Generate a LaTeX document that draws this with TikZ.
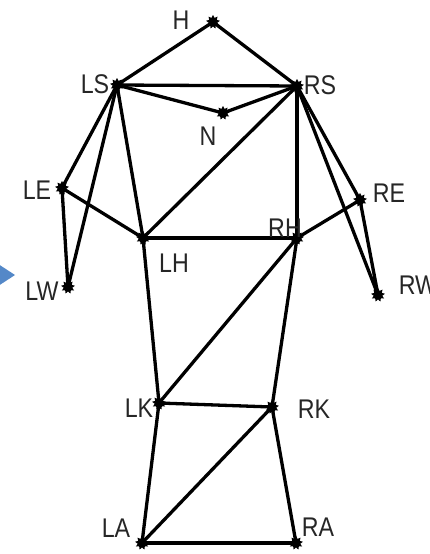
\documentclass[tikz,border=0pt]{standalone}
\usepackage{fontspec}
\setmainfont{Liberation Sans}[FakeStretch=0.86]
\usetikzlibrary{shapes.geometric}
\definecolor{pointer}{RGB}{84,136,200}
\tikzset{
  joint/.style={star, star points=9, star point ratio=1.6, fill=black, inner sep=0pt, minimum size=14pt},
  bone/.style={line width=3.3pt, line cap=round, line join=round},
  lbl/.style={inner sep=0pt, text=black!85, font=\fontsize{27}{27}\selectfont}
}
\begin{document}
\begin{tikzpicture}[x=1pt, y=-1pt]
  \useasboundingbox (0,0) rectangle (430,554);
  \fill[white] (0,0) rectangle (430,554);

  % pointer at the left edge
  \fill[pointer] (-8,260) -- (15,275) -- (-8,290) -- cycle;

  % joints
  \node[joint] (H)  at (213,22)  {};
  \node[joint] (LS) at (117,85)  {};
  \node[joint] (RS) at (297,86)  {};
  \node[joint] (N)  at (223,113) {};
  \node[joint] (LE) at (62,188)  {};
  \node[joint] (RE) at (360,200) {};
  \node[joint] (LH) at (143,238) {};
  \node[joint] (RH) at (297,238) {};
  \node[joint] (LW) at (68,287)  {};
  \node[joint] (RW) at (378,295) {};
  \node[joint] (LK) at (159,403) {};
  \node[joint] (RK) at (272,407) {};
  \node[joint] (LA) at (142,543) {};
  \node[joint] (RA) at (296,543) {};

  % skeleton edges
  \foreach \a/\b in {H/LS, H/RS, LS/RS, LS/N, N/RS, LS/LE, LS/LW, LS/LH,
                     LE/LW, LE/LH, RS/LH, RS/RH, RS/RE, RS/RW, RE/RH, RE/RW,
                     LH/RH, LH/LK, RH/LK, RH/RK, LK/RK, LK/LA, RK/LA, RK/RA, LA/RA}
    \draw[bone] (\a.center) -- (\b.center);

  % labels
  \node[lbl] (tH)  at (181,20)  {H};
  \node[lbl] (tLS) at (95,84)   {LS};
  \node[lbl] (tRS) at (320,85)  {RS};
  \node[lbl] (tN)  at (208,136) {N};
  \node[lbl] (tLE) at (37,190)  {LE};
  \node[lbl] (tRE) at (389,193) {RE};
  \node[lbl] (tLH) at (174,263) {LH};
  \node[lbl] (tRH) at (285,228) {RH};
  \node[lbl] (tLW) at (42,291)  {LW};
  \node[lbl] (tRW) at (418,285) {RW};
  \node[lbl] (tLK) at (139,408) {LK};
  \node[lbl] (tRK) at (314,409) {RK};
  \node[lbl] (tLA) at (116,528) {LA};
  \node[lbl] (tRA) at (318,527) {RA};
\end{tikzpicture}
\end{document}
